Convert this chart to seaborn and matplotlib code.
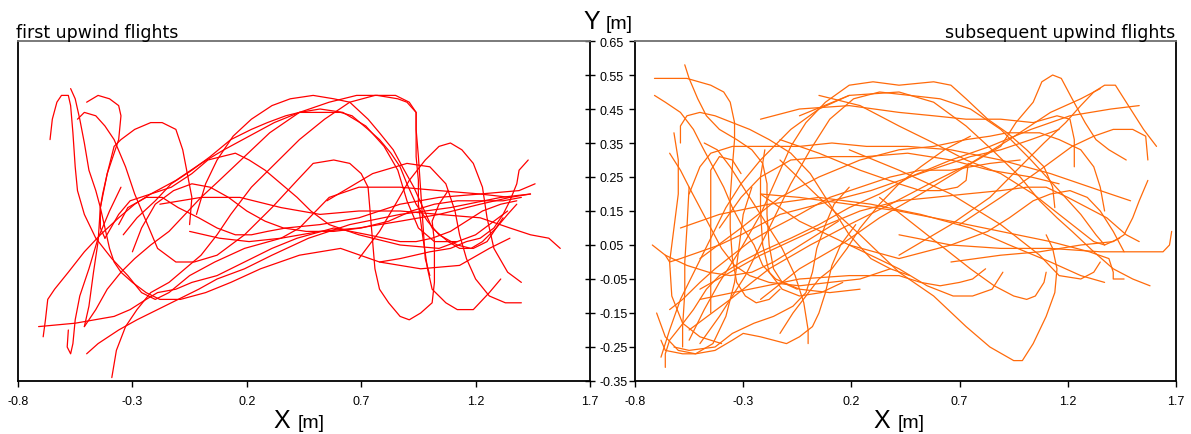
import matplotlib
matplotlib.use("Agg")
import matplotlib.pyplot as plt
import seaborn as sns
import pandas as pd

# ---------------- data: first upwind flights (left panel) ----------------
L01_x = [-0.66,-0.65,-0.63,-0.61,-0.58,-0.57,-0.56,-0.55,-0.54,-0.51,-0.46,-0.39,-0.32,-0.26,-0.20,-0.14,-0.05,0.06,0.19,0.35,0.52,0.69,0.87,1.04,1.22,1.35]
L01_y = [0.36,0.42,0.47,0.49,0.49,0.46,0.38,0.28,0.21,0.14,0.07,0.01,-0.04,-0.09,-0.11,-0.09,-0.04,0.00,0.04,0.07,0.09,0.10,0.12,0.14,0.17,0.19]
L02_x = [-0.57,-0.55,-0.53,-0.51,-0.49,-0.46,-0.44,-0.42,-0.40,-0.38,-0.35,-0.30,-0.24,-0.18,-0.09,0.02,0.13,0.26,0.43,0.61,0.78,0.96,1.13,1.26,1.35]
L02_y = [0.51,0.48,0.42,0.35,0.27,0.21,0.16,0.10,0.04,0.00,-0.03,-0.06,-0.09,-0.11,-0.11,-0.09,-0.06,-0.02,0.02,0.04,0.00,-0.02,-0.01,0.04,0.07]
L03_x = [-0.50,-0.45,-0.40,-0.36,-0.35,-0.36,-0.41,-0.44,-0.45,-0.47,-0.49,-0.51]
L03_y = [0.47,0.49,0.48,0.46,0.43,0.36,0.26,0.16,0.06,-0.03,-0.13,-0.19]
L04_x = [-0.54,-0.51,-0.46,-0.42,-0.38,-0.33,-0.29,-0.24,-0.19,-0.11,-0.03,0.07,0.19,0.31,0.42,0.49,0.58,0.65,0.70,0.73,0.74,0.75,0.76,0.78,0.82,0.87,0.91,0.96,1.01,1.02,1.02,1.01,1.04,1.08]
L04_y = [0.42,0.44,0.43,0.40,0.36,0.28,0.20,0.12,0.04,0.00,0.00,0.02,0.08,0.16,0.24,0.29,0.30,0.29,0.26,0.22,0.14,0.06,-0.02,-0.08,-0.12,-0.16,-0.17,-0.15,-0.12,-0.06,0.06,0.12,0.17,0.21]
L05_x = [0.69,0.78,0.85,0.91,0.98,1.04,1.09,1.14,1.19,1.23,1.25,1.28,1.34,1.40]
L05_y = [0.01,0.09,0.17,0.24,0.30,0.34,0.35,0.33,0.29,0.22,0.13,0.04,-0.03,-0.06]
L06_x = [-0.71,-0.55,-0.38,-0.31,-0.24,-0.19,-0.11,-0.04,0.07,0.19,0.31,0.42,0.58,0.73,0.87,0.94,1.01,1.09,1.16,1.23,1.31,1.38]
L06_y = [-0.19,-0.18,-0.16,-0.14,-0.11,-0.09,-0.08,-0.06,-0.04,0.00,0.04,0.07,0.10,0.08,0.06,0.06,0.07,0.09,0.12,0.15,0.17,0.18]
L07_x = [-0.50,-0.45,-0.36,-0.28,-0.19,-0.10,-0.01,0.07,0.19,0.31,0.47,0.65,0.87,1.09,1.31,1.44]
L07_y = [-0.27,-0.24,-0.20,-0.17,-0.14,-0.11,-0.08,-0.05,-0.02,0.02,0.07,0.11,0.14,0.16,0.19,0.20]
L08_x = [-0.39,-0.37,-0.33,-0.28,-0.22,-0.14,-0.07,0.00,0.07,0.13,0.22,0.34,0.43,0.54,0.65,0.76,0.85,0.91,0.94,0.94,0.94,0.95,0.95,0.97,0.99,1.01,1.07,1.12,1.19,1.26,1.31]
L08_y = [-0.34,-0.26,-0.19,-0.14,-0.09,-0.06,-0.02,0.02,0.08,0.14,0.22,0.30,0.36,0.42,0.47,0.49,0.49,0.47,0.44,0.39,0.31,0.24,0.17,0.07,-0.02,-0.08,-0.12,-0.14,-0.14,-0.09,-0.05]
L09_x = [-0.05,-0.04,-0.06,-0.08,-0.11,-0.17,-0.22,-0.29,-0.35,-0.38,-0.41,-0.43,-0.44,-0.44,-0.42]
L09_y = [0.11,0.19,0.26,0.33,0.39,0.41,0.41,0.39,0.36,0.34,0.26,0.20,0.16,0.10,0.07]
L10_x = [-0.34,-0.28,-0.20,-0.13,-0.04,0.04,0.13,0.22,0.29,0.37,0.43,0.52,0.61,0.66,0.73,0.78,0.83,0.87,0.90,0.94,0.99,1.04,1.12,1.18,1.23,1.29,1.34,1.38]
L10_y = [0.08,0.13,0.18,0.23,0.27,0.31,0.36,0.39,0.41,0.43,0.44,0.44,0.44,0.43,0.39,0.36,0.32,0.28,0.23,0.17,0.12,0.08,0.05,0.04,0.06,0.10,0.14,0.17]
L11_x = [-0.02,0.02,0.07,0.14,0.22,0.31,0.39,0.49,0.58,0.65,0.73,0.78,0.84,0.88,0.93,0.97,1.01,1.08,1.13,1.19,1.25,1.29,1.32]
L11_y = [0.14,0.23,0.30,0.37,0.42,0.46,0.48,0.49,0.48,0.47,0.42,0.38,0.33,0.28,0.22,0.16,0.10,0.06,0.04,0.04,0.06,0.10,0.13]
L12_x = [-0.51,-0.46,-0.41,-0.35,-0.29,-0.22,-0.14,-0.07,0.00,0.08,0.19,0.30,0.43,0.56,0.68,0.77,0.86,0.90,0.94,0.94,0.95,0.96,0.97,0.98,1.00]
L12_y = [-0.19,-0.14,-0.08,-0.03,0.01,0.05,0.09,0.14,0.19,0.24,0.31,0.38,0.44,0.47,0.49,0.49,0.48,0.47,0.44,0.39,0.31,0.21,0.11,0.01,-0.04]
L13_x = [-0.05,0.08,0.21,0.35,0.43,0.56,0.69,0.87,1.04,1.22,1.35,1.44]
L13_y = [0.09,0.07,0.06,0.07,0.10,0.19,0.22,0.22,0.21,0.20,0.19,0.20]
L14_x = [-0.18,0.00,0.17,0.35,0.52,0.69,0.87,1.04,1.22,1.35,1.44,1.52,1.57]
L14_y = [0.17,0.19,0.19,0.16,0.14,0.15,0.15,0.14,0.13,0.10,0.08,0.07,0.04]
L15_x = [0.78,0.87,1.00,1.09,1.16,1.22,1.28,1.32,1.35,1.38,1.39,1.43]
L15_y = [0.00,0.01,0.03,0.04,0.06,0.07,0.10,0.14,0.18,0.23,0.27,0.30]
L16_x = [0.55,0.75,0.90,1.00,1.07,1.11,1.13,1.16,1.20,1.26,1.33,1.40]
L16_y = [0.18,0.26,0.29,0.28,0.23,0.15,0.08,0.01,-0.05,-0.10,-0.12,-0.12]
L17_x = [-0.36,-0.32,-0.24,-0.17,-0.10,-0.01,0.07,0.15,0.22,0.29,0.37,0.52,0.69,0.87,1.04,1.22,1.39,1.46]
L17_y = [0.11,0.16,0.19,0.19,0.16,0.13,0.10,0.08,0.08,0.09,0.10,0.11,0.13,0.17,0.19,0.20,0.21,0.23]
L18_x = [-0.42,-0.36,-0.31,-0.22,-0.13,-0.04,0.03,0.09,0.15,0.21,0.28,0.35,0.42,0.48,0.56,0.69,0.87,1.04,1.20,1.34]
L18_y = [0.07,0.14,0.18,0.20,0.22,0.26,0.30,0.31,0.32,0.30,0.27,0.23,0.19,0.15,0.11,0.08,0.05,0.04,0.08,0.15]
L19_x = [-0.58,-0.585,-0.57,-0.56,-0.55,-0.53,-0.49,-0.45,-0.40,-0.35]
L19_y = [-0.20,-0.25,-0.27,-0.24,-0.17,-0.10,-0.02,0.07,0.15,0.22]
L20_x = [-0.69,-0.68,-0.67,-0.64,-0.58,-0.51,-0.44,-0.36,-0.29,-0.22,-0.11,0.00,0.10,0.21,0.32,0.43,0.52,0.62,0.72,0.80,0.86,0.90,0.95,1.02,1.12]
L20_y = [-0.22,-0.17,-0.11,-0.08,-0.03,0.03,0.08,0.13,0.17,0.20,0.24,0.29,0.33,0.37,0.41,0.44,0.45,0.44,0.40,0.34,0.27,0.18,0.10,0.06,0.06]
L21_x = [-0.30,-0.26,-0.20,-0.12,-0.04,0.04,0.12,0.20,0.28,0.36,0.46,0.58,0.70,0.82,0.92,1.02,1.12,1.22,1.32,1.40]
L21_y = [0.03,0.10,0.17,0.21,0.23,0.22,0.19,0.15,0.12,0.10,0.09,0.09,0.10,0.12,0.15,0.17,0.18,0.18,0.18,0.19]

# ---------------- data: subsequent upwind flights (right panel) ----------------
R01_x = [-0.71,-0.56,-0.45,-0.39,-0.36,-0.34,-0.34,-0.35,-0.36,-0.36,-0.35,-0.33,-0.29,-0.24,-0.18,-0.13]
R01_y = [0.54,0.54,0.52,0.50,0.47,0.41,0.36,0.28,0.19,0.10,0.01,-0.06,-0.10,-0.12,-0.11,-0.08]
R02_x = [-0.57,-0.55,-0.51,-0.47,-0.41,-0.33,-0.26,-0.21,-0.19,-0.19,-0.18,-0.16,-0.12,-0.05]
R02_y = [0.58,0.54,0.48,0.43,0.39,0.36,0.33,0.29,0.23,0.14,0.05,-0.02,-0.06,-0.08]
R03_x = [-0.71,-0.66,-0.59,-0.53,-0.49,-0.44,-0.39,-0.35,-0.30,-0.25,-0.21,-0.15,-0.04,0.10,0.24]
R03_y = [0.49,0.47,0.44,0.39,0.34,0.28,0.22,0.16,0.10,0.05,-0.01,-0.05,-0.08,-0.09,-0.08]
R04_x = [-0.59,-0.59,-0.56,-0.50,-0.43,-0.35,-0.27,-0.18,-0.08,0.01,0.10,0.19,0.29,0.38,0.47]
R04_y = [0.35,0.40,0.43,0.44,0.43,0.41,0.39,0.36,0.32,0.26,0.17,0.08,0.01,-0.02,-0.04]
R05_x = [-0.64,-0.59,-0.55,-0.50,-0.45,-0.40,-0.34,-0.27,-0.18,-0.04,0.10,0.24,0.38]
R05_y = [0.32,0.27,0.22,0.16,0.10,0.04,-0.01,-0.04,-0.06,-0.07,-0.06,-0.05,-0.02]
R06_x = [-0.55,-0.48,-0.41,-0.31,-0.22,-0.15,-0.08,-0.01,0.08,0.19,0.30,0.42,0.58,0.66,0.73,0.83,0.92,1.01,1.09,1.13,1.14]
R06_y = [-0.23,-0.14,-0.06,0.04,0.14,0.24,0.34,0.41,0.47,0.52,0.53,0.52,0.53,0.52,0.48,0.42,0.38,0.33,0.28,0.22,0.16]
R07_x = [-0.50,-0.41,-0.29,-0.18,-0.08,0.01,0.10,0.21,0.33,0.47,0.61,0.75,0.89,1.03,1.16,1.26,1.33,1.37]
R07_y = [-0.24,-0.16,-0.04,0.10,0.23,0.33,0.42,0.48,0.50,0.49,0.48,0.45,0.39,0.30,0.21,0.14,0.08,0.05]
R08_x = [-0.22,-0.04,0.15,0.33,0.52,0.70,0.89,0.96,1.04,1.08,1.13,1.17,1.22,1.28,1.33,1.39,1.47]
R08_y = [-0.11,-0.02,0.05,0.13,0.20,0.27,0.34,0.41,0.47,0.53,0.55,0.54,0.48,0.41,0.36,0.33,0.30]
R09_x = [0.42,0.66,0.84,0.98,1.09,1.19,1.26,1.32,1.37,1.42,1.49,1.55,1.61]
R09_y = [0.02,0.11,0.19,0.28,0.35,0.41,0.46,0.50,0.52,0.52,0.45,0.39,0.34]
R10_x = [0.70,0.89,1.07,1.22,1.32,1.41,1.50,1.56,1.57]
R10_y = [0.11,0.19,0.27,0.34,0.37,0.39,0.39,0.37,0.30]
R11_x = [0.66,0.89,1.07,1.26,1.41,1.46,1.50,1.53,1.57]
R11_y = [0.00,0.02,0.03,0.05,0.06,0.08,0.13,0.18,0.24]
R12_x = [0.42,0.66,0.89,1.12,1.35,1.50,1.58,1.64,1.67,1.68]
R12_y = [0.08,0.05,0.04,0.04,0.03,0.03,0.03,0.03,0.05,0.09]
R13_x = [-0.22,-0.04,0.19,0.42,0.66,0.89,1.12,1.30,1.39,1.41,1.41,1.46]
R13_y = [0.20,0.19,0.17,0.15,0.12,0.09,0.06,0.03,0.01,-0.03,-0.05,-0.05]
R14_x = [-0.59,-0.41,-0.18,0.05,0.29,0.52,0.75,0.93,1.12,1.26,1.37]
R14_y = [0.10,0.14,0.17,0.19,0.17,0.14,0.10,0.05,0.00,-0.04,-0.06]
R15_x = [-0.22,-0.04,0.19,0.42,0.58,0.73,0.89,1.04,1.15,1.21,1.23,1.23]
R15_y = [0.42,0.45,0.46,0.44,0.43,0.42,0.42,0.41,0.43,0.42,0.36,0.28]
R16_x = [-0.50,-0.31,-0.13,0.05,0.24,0.42,0.58,0.73,0.84,0.92,1.07,1.16,1.26,1.32,1.35,1.37]
R16_y = [0.01,0.10,0.19,0.25,0.30,0.33,0.34,0.36,0.37,0.38,0.38,0.36,0.33,0.28,0.22,0.15]
R17_x = [-0.13,0.05,0.24,0.42,0.52,0.61,0.69,0.73,0.74]
R17_y = [0.36,0.32,0.27,0.23,0.21,0.21,0.22,0.24,0.29]
R18_x = [-0.50,-0.22,0.05,0.24,0.42,0.58,0.73,0.89,1.01,1.10,1.20,1.29,1.38,1.47,1.53]
R18_y = [-0.08,0.02,0.10,0.15,0.18,0.19,0.20,0.21,0.22,0.22,0.19,0.16,0.13,0.08,0.06]
R19_x = [-0.50,-0.27,-0.04,0.19,0.42,0.52,0.61,0.70,0.76,0.82]
R19_y = [-0.11,-0.08,-0.05,-0.04,-0.04,-0.06,-0.07,-0.06,-0.05,-0.02]
R20_x = [-0.22,-0.04,0.19,0.42,0.55,0.67,0.76,0.85,0.90]
R20_y = [0.20,0.12,0.05,-0.02,-0.07,-0.10,-0.10,-0.08,-0.03]
R21_x = [-0.13,0.05,0.24,0.42,0.58,0.73,0.84,0.95,0.99,1.04,1.10,1.14,1.15,1.13,1.10]
R21_y = [0.30,0.19,0.08,-0.03,-0.10,-0.19,-0.25,-0.29,-0.29,-0.24,-0.16,-0.09,-0.02,0.04,0.08]
R22_x = [0.33,0.47,0.61,0.75,0.86,0.95,1.01,1.05,1.09,1.10]
R22_y = [0.19,0.12,0.05,-0.02,-0.07,-0.10,-0.11,-0.10,-0.06,-0.03]
R23_x = [0.19,0.42,0.66,0.89,1.07,1.16,1.26,1.32,1.35]
R23_y = [0.33,0.27,0.20,0.11,0.02,-0.04,-0.05,-0.03,0.00]
R24_x = [-0.55,-0.50,-0.45,-0.35,-0.19,-0.04,0.11,0.27,0.46,0.66,0.89,1.12,1.35,1.49]
R24_y = [0.20,0.28,0.32,0.34,0.34,0.34,0.35,0.34,0.34,0.33,0.30,0.26,0.21,0.18]
R25_x = [-0.41,-0.31,-0.22,-0.08,0.11,0.27,0.46,0.66,0.84,1.03,1.16]
R25_y = [0.10,0.19,0.25,0.30,0.31,0.31,0.32,0.30,0.27,0.25,0.23]
R26_x = [-0.68,-0.66,-0.58,-0.52,-0.43,-0.35,-0.30,-0.22,-0.16,-0.10,-0.04,0.02,0.05,0.08,0.11,0.15,0.22]
R26_y = [-0.23,-0.26,-0.27,-0.27,-0.26,-0.23,-0.21,-0.22,-0.23,-0.24,-0.22,-0.19,-0.15,-0.09,-0.01,0.05,0.11]
R27_x = [-0.62,-0.55,-0.43,-0.35,-0.25,-0.16,-0.07,-0.01,0.02,0.04,0.08,0.12,0.19]
R27_y = [-0.25,-0.26,-0.25,-0.21,-0.18,-0.16,-0.13,-0.09,-0.03,0.04,0.11,0.17,0.22]
R28_x = [-0.66,-0.66,-0.64,-0.59,-0.53,-0.47,-0.41,-0.31,-0.22,-0.08,0.05,0.19,0.33,0.47,0.61,0.75,0.89,1.03,1.16]
R28_y = [-0.31,-0.27,-0.23,-0.19,-0.14,-0.08,-0.04,0.00,0.03,0.07,0.11,0.16,0.20,0.25,0.28,0.31,0.33,0.36,0.39]
R29_x = [-0.64,-0.58,-0.50,-0.43,-0.35,-0.27,-0.16,-0.04,0.10,0.24,0.38,0.52,0.66,0.84,0.98]
R29_y = [-0.14,-0.11,-0.06,-0.02,0.02,0.06,0.10,0.14,0.19,0.22,0.25,0.27,0.27,0.29,0.30]
R30_x = [-0.66,-0.64,-0.59,-0.50,-0.41,-0.31,-0.22,-0.13,-0.01,0.11,0.29,0.47,0.66,0.84,1.03,1.21,1.40,1.53]
R30_y = [0.02,0.00,0.01,0.03,0.05,0.08,0.11,0.14,0.16,0.18,0.21,0.25,0.30,0.34,0.39,0.43,0.45,0.46]
R31_x = [-0.55,-0.56,-0.57,-0.57,-0.58,-0.58]
R31_y = [0.22,0.10,0.00,-0.09,-0.19,-0.25]
R32_x = [-0.31,-0.35,-0.41,-0.45,-0.45,-0.45,-0.45,-0.45]
R32_y = [0.26,0.30,0.31,0.27,0.19,0.07,-0.04,-0.15]
R33_x = [-0.55,-0.36,-0.18,0.01,0.19,0.38,0.56,0.75,0.93,1.12,1.26,1.35]
R33_y = [-0.20,-0.11,-0.02,0.05,0.11,0.17,0.23,0.29,0.36,0.44,0.48,0.51]
R34_x = [0.05,0.24,0.42,0.58,0.73,0.89,1.04,1.16,1.26,1.32,1.37,1.44]
R34_y = [0.49,0.46,0.40,0.35,0.30,0.26,0.20,0.14,0.09,0.06,0.05,0.07]
R35_x = [-0.04,0.19,0.42,0.58,0.73,0.85,0.98,1.07,1.15,1.22,1.32,1.41,1.50,1.58]
R35_y = [0.43,0.49,0.50,0.47,0.40,0.33,0.25,0.18,0.13,0.09,0.03,-0.02,-0.05,-0.07]
R36_x = [-0.13,-0.07,-0.01,0.05,0.11,0.18,0.24,0.33,0.42,0.52,0.63,0.75]
R36_y = [-0.21,-0.15,-0.10,-0.05,-0.02,0.04,0.10,0.17,0.23,0.28,0.33,0.37]
R37_x = [-0.68,-0.64,-0.59,-0.52,-0.45,-0.38,-0.31,-0.22,-0.08,0.05,0.19]
R37_y = [-0.28,-0.20,-0.11,-0.02,0.07,0.16,0.23,0.30,0.39,0.45,0.49]
R38_x = [0.19,0.42,0.66,0.83,0.93,1.04,1.12,1.21,1.29,1.35,1.41,1.46]
R38_y = [0.05,0.01,0.05,0.09,0.13,0.18,0.20,0.21,0.19,0.15,0.09,0.03]
R39_x = [-0.62,-0.60,-0.60,-0.62,-0.64,-0.63,-0.58,-0.50,-0.40]
R39_y = [0.38,0.30,0.20,0.10,0.00,-0.10,-0.18,-0.22,-0.24]
R40_x = [-0.70,-0.66,-0.60,-0.52,-0.44,-0.38,-0.34,-0.32,-0.30,-0.26]
R40_y = [-0.15,-0.22,-0.26,-0.27,-0.24,-0.16,-0.06,0.04,0.14,0.22]
R41_x = [-0.48,-0.42,-0.36,-0.28,-0.20,-0.12,-0.06,-0.02,0.00,0.00]
R41_y = [0.35,0.33,0.28,0.20,0.12,0.04,-0.04,-0.12,-0.20,-0.24]
R42_x = [-0.20,-0.22,-0.22,-0.21,-0.18,-0.12,-0.04,0.06,0.16]
R42_y = [0.33,0.25,0.15,0.05,-0.03,-0.08,-0.10,-0.09,-0.06]
R43_x = [-0.72,-0.66,-0.56,-0.46,-0.36,-0.26,-0.16,-0.06,0.04,0.14]
R43_y = [0.05,0.02,-0.01,-0.03,-0.04,-0.03,0.00,0.04,0.08,0.12]

x_ticks = [-0.8, -0.3, 0.2, 0.7, 1.2, 1.7]
y_ticks = [0.65, 0.55, 0.45, 0.35, 0.25, 0.15, 0.05, -0.05, -0.15, -0.25, -0.35]
x_tick_labels = ["-0.8", "-0.3", "0.2", "0.7", "1.2", "1.7"]
y_tick_labels = ["0.65", "0.55", "0.45", "0.35", "0.25", "0.15", "0.05", "-0.05", "-0.15", "-0.25", "-0.35"]

left_flights = [(L01_x, L01_y), (L02_x, L02_y), (L03_x, L03_y), (L04_x, L04_y), (L05_x, L05_y),
                (L06_x, L06_y), (L07_x, L07_y), (L08_x, L08_y), (L09_x, L09_y), (L10_x, L10_y),
                (L11_x, L11_y), (L12_x, L12_y), (L13_x, L13_y), (L14_x, L14_y), (L15_x, L15_y),
                (L16_x, L16_y), (L17_x, L17_y), (L18_x, L18_y), (L19_x, L19_y), (L20_x, L20_y),
                (L21_x, L21_y)]
right_flights = [(R01_x, R01_y), (R02_x, R02_y), (R03_x, R03_y), (R04_x, R04_y), (R05_x, R05_y),
                 (R06_x, R06_y), (R07_x, R07_y), (R08_x, R08_y), (R09_x, R09_y), (R10_x, R10_y),
                 (R11_x, R11_y), (R12_x, R12_y), (R13_x, R13_y), (R14_x, R14_y), (R15_x, R15_y),
                 (R16_x, R16_y), (R17_x, R17_y), (R18_x, R18_y), (R19_x, R19_y), (R20_x, R20_y),
                 (R21_x, R21_y), (R22_x, R22_y), (R23_x, R23_y), (R24_x, R24_y), (R25_x, R25_y),
                 (R26_x, R26_y), (R27_x, R27_y), (R28_x, R28_y), (R29_x, R29_y), (R30_x, R30_y),
                 (R31_x, R31_y), (R32_x, R32_y), (R33_x, R33_y), (R34_x, R34_y), (R35_x, R35_y),
                 (R36_x, R36_y), (R37_x, R37_y), (R38_x, R38_y), (R39_x, R39_y), (R40_x, R40_y),
                 (R41_x, R41_y), (R42_x, R42_y), (R43_x, R43_y)]


def to_frame(flights):
    rows = []
    for i, (xs, ys) in enumerate(flights):
        for j, (xv, yv) in enumerate(zip(xs, ys)):
            rows.append({"flight": i, "order": j, "x": xv, "y": yv})
    return pd.DataFrame(rows)


df_left = to_frame(left_flights)
df_right = to_frame(right_flights)

sns.set_theme(style="white")
plt.rcParams["font.family"] = ["Liberation Sans", "DejaVu Sans"]
plt.rcParams["axes.unicode_minus"] = False
plt.rcParams["text.color"] = "black"
plt.rcParams["xtick.color"] = "black"
plt.rcParams["ytick.color"] = "black"
plt.rcParams["xtick.labelcolor"] = "black"
plt.rcParams["ytick.labelcolor"] = "black"

fig = plt.figure(figsize=(11.91, 4.35), dpi=100)
ax_l = fig.add_axes([18 / 1191, 1 - 382 / 435, (590 - 18) / 1191, 340 / 435])
ax_r = fig.add_axes([635 / 1191, 1 - 382 / 435, (1176 - 635) / 1191, 340 / 435])

sns.lineplot(data=df_left, x="x", y="y", units="flight", estimator=None, sort=False,
             color="#ff0000", linewidth=0.9, ax=ax_l)
sns.lineplot(data=df_right, x="x", y="y", units="flight", estimator=None, sort=False,
             color="#ff6a0a", linewidth=0.9, ax=ax_r)

for ax in (ax_l, ax_r):
    ax.set_xlim(-0.8, 1.7)
    ax.set_ylim(-0.35, 0.65)
    ax.set_xticks(x_ticks)
    ax.set_xticklabels(x_tick_labels, fontsize=9, color="black")
    ax.set_yticks(y_ticks)
    ax.set_xlabel("")
    ax.set_ylabel("")
    ax.set_facecolor("white")
    for s in ax.spines.values():
        s.set_visible(True)
        s.set_color("black")
        s.set_linewidth(1.3)
    ax.spines["top"].set_color("#707070")
    ax.tick_params(axis="x", direction="out", length=4, width=1, color="black",
                   bottom=True, pad=6, labelsize=9, labelcolor="black")

# left panel: central y axis on its right side
ax_l.yaxis.tick_right()
ax_l.set_yticklabels(y_tick_labels, fontsize=9, color="black")
ax_l.tick_params(axis="y", direction="inout", length=7, width=1, color="black",
                 right=True, left=False, labelright=True, labelleft=False, pad=3,
                 labelcolor="black")
# right panel: outward ticks on the left spine, no labels
ax_r.tick_params(axis="y", direction="out", length=4, width=1, color="black",
                 left=True, right=False, labelleft=False, labelright=False)

# titles
fig.text(16 / 1191, 1 - 38 / 435, "first upwind flights", fontsize=12.5, color="black",
         family="DejaVu Sans", ha="left", va="baseline")
fig.text(1175 / 1191, 1 - 38 / 435, "subsequent upwind flights", fontsize=12.5, color="black",
         family="DejaVu Sans", ha="right", va="baseline")

# axis labels
fig.text(583 / 1191, 1 - 29 / 435, "Y", fontsize=18, color="black", ha="left", va="baseline")
fig.text(606 / 1191, 1 - 29 / 435, "[m]", fontsize=14, color="black", ha="left", va="baseline")
fig.text(273 / 1191, 1 - 428 / 435, "X", fontsize=18, color="black", ha="left", va="baseline")
fig.text(298 / 1191, 1 - 428 / 435, "[m]", fontsize=14, color="black", ha="left", va="baseline")
fig.text(873 / 1191, 1 - 428 / 435, "X", fontsize=18, color="black", ha="left", va="baseline")
fig.text(898 / 1191, 1 - 428 / 435, "[m]", fontsize=14, color="black", ha="left", va="baseline")

fig.savefig("out.png", dpi=100, facecolor="white")
